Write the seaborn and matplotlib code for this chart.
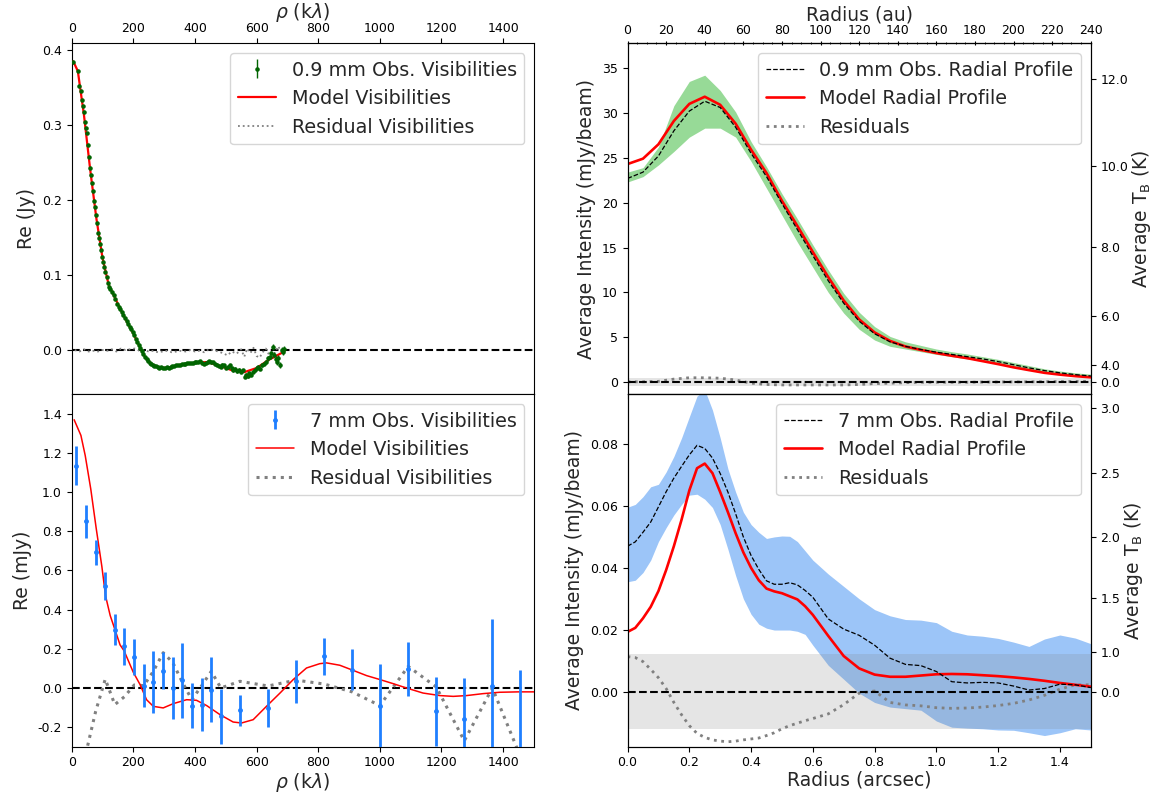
import numpy as np
import matplotlib
matplotlib.use("Agg")
import matplotlib.pyplot as plt
import seaborn as sns
from matplotlib.ticker import MultipleLocator, AutoMinorLocator, FormatStrFormatter

sns.set_style("ticks", rc={"axes.edgecolor": "black", "xtick.color": "black",
                           "ytick.color": "black", "axes.linewidth": 1.3})
plt.rcParams["font.family"] = ["DejaVu Sans"]
plt.rcParams.update({
    "xtick.labelsize": 9, "ytick.labelsize": 9,
    "axes.labelsize": 13.5, "legend.fontsize": 13.8,
    "xtick.direction": "out", "ytick.direction": "out",
    "mathtext.default": "it",
})

# ---------------- 0.9 mm visibilities (Jy) ----------------
rho09 = [5.4, 19.5, 24.9, 29.0, 32.4, 35.7, 38.9, 42.2, 45.4, 48.6,
         53.0, 56.2, 59.5, 62.7, 66.0, 69.2, 72.4, 75.7, 78.9, 83.2,
         86.5, 89.7, 93.0, 96.2, 99.5, 102.7, 106.0, 109.0, 113.5, 118.0,
         122.0, 126.0, 130.0, 136, 142, 148, 153, 158, 163, 168,
         173, 178, 183, 188, 193, 198, 203, 208, 213, 218,
         223, 228, 233, 238, 243, 248, 253, 258, 263, 268,
         273, 279, 285, 291, 297, 303, 309, 315, 321, 327,
         333, 339, 345, 351, 357, 363, 369, 375, 381, 387,
         393, 399, 405, 411, 417, 423, 429, 435, 441, 447,
         453, 459, 465, 471, 477, 483, 489, 495, 501, 507,
         513, 519, 525, 531, 537, 543, 549, 555, 561, 566,
         571, 576, 582, 588, 594, 600, 606, 612, 618, 624,
         630, 636, 642, 648, 652, 657, 662, 666, 671, 676,
         681, 686, 690]
re09 = [0.3844, 0.372, 0.352, 0.346, 0.334, 0.326, 0.318, 0.304, 0.296, 0.290,
        0.273, 0.258, 0.243, 0.234, 0.223, 0.212, 0.199, 0.191, 0.180, 0.169,
        0.156, 0.149, 0.141, 0.133, 0.124, 0.118, 0.111, 0.104, 0.097, 0.089,
        0.084, 0.081, 0.078, 0.074, 0.068, 0.0613, 0.058, 0.055, 0.0505, 0.047,
        0.043, 0.0385, 0.035, 0.031, 0.0275, 0.0235, 0.0198, 0.015, 0.011, 0.007,
        0.0025, -0.0015, -0.0058, -0.0095, -0.0124, -0.015, -0.0168, -0.018, -0.0195, -0.0208,
        -0.0218, -0.0228, -0.0236, -0.0232, -0.0244, -0.024, -0.0232, -0.0238, -0.0225, -0.0218,
        -0.0212, -0.0205, -0.0198, -0.0205, -0.019, -0.0185, -0.0192, -0.0175, -0.017, -0.0168,
        -0.0178, -0.016, -0.0155, -0.0165, -0.015, -0.0172, -0.0182, -0.0168, -0.0158, -0.0145,
        -0.0165, -0.016, -0.018, -0.0195, -0.021, -0.0222, -0.0195, -0.0205, -0.024, -0.022,
        -0.020, -0.0245, -0.027, -0.025, -0.0285, -0.026, -0.029, -0.027, -0.036, -0.033,
        -0.035, -0.031, -0.033, -0.029, -0.027, -0.024, -0.022, -0.025, -0.020, -0.018,
        -0.016, -0.011, -0.009, -0.004, 0.004, -0.006, -0.012, -0.016, -0.010, -0.020,
        0.000, -0.003, 0.002]
err09 = [0.0008, 0.0008, 0.0008, 0.0008, 0.0008, 0.0008, 0.0008, 0.0008, 0.0008, 0.0008,
         0.0008, 0.0008, 0.0008, 0.0008, 0.0008, 0.0008, 0.0008, 0.0008, 0.0008, 0.0008,
         0.0008, 0.0008, 0.0008, 0.0008, 0.0008, 0.0008, 0.0008, 0.0008, 0.0008, 0.0008,
         0.0009, 0.0009, 0.0009, 0.0009, 0.0009, 0.0009, 0.0009, 0.0009, 0.0009, 0.0009,
         0.0010, 0.0010, 0.0010, 0.0010, 0.0010, 0.0010, 0.0010, 0.0010, 0.0010, 0.0010,
         0.0011, 0.0011, 0.0011, 0.0011, 0.0011, 0.0011, 0.0011, 0.0011, 0.0011, 0.0011,
         0.0012, 0.0012, 0.0012, 0.0012, 0.0012, 0.0012, 0.0012, 0.0012, 0.0012, 0.0012,
         0.0013, 0.0013, 0.0013, 0.0013, 0.0013, 0.0013, 0.0013, 0.0013, 0.0013, 0.0013,
         0.0014, 0.0014, 0.0014, 0.0014, 0.0014, 0.0014, 0.0014, 0.0014, 0.0014, 0.0014,
         0.0016, 0.0016, 0.0016, 0.0016, 0.0016, 0.0016, 0.0016, 0.0016, 0.0016, 0.0016,
         0.0018, 0.0018, 0.0018, 0.0018, 0.0018, 0.0018, 0.0018, 0.0018, 0.0018, 0.0018,
         0.0022, 0.0022, 0.0022, 0.0022, 0.0022, 0.0022, 0.0022, 0.0022, 0.0022, 0.0022,
         0.0030, 0.0030, 0.0030, 0.0030, 0.0035, 0.0035, 0.0035, 0.0035, 0.0040, 0.0040,
         0.0040, 0.0040, 0.0040]

rho09_model = [5, 20, 40, 60, 80, 100, 120, 140, 160, 180, 200, 220, 240,
               260, 280, 300, 330, 360, 400, 440, 480, 520, 560, 600, 640, 690]
re09_model = [0.385, 0.372, 0.313, 0.241, 0.176, 0.123, 0.087, 0.070, 0.053,
              0.037, 0.022, 0.005, -0.011, -0.019, -0.0225, -0.024, -0.022,
              -0.019, -0.017, -0.016, -0.021, -0.027, -0.0295, -0.024, -0.013,
              -0.002]

rho09_res = [10, 25, 40, 55, 70, 85, 100, 115, 130, 145, 160, 175, 190, 205,
             220, 235, 250, 265, 280, 295, 310, 325, 340, 355, 370, 385, 400,
             415, 430, 445, 460, 475, 490, 505, 520, 535, 550, 560, 570, 580,
             590, 600, 610, 620, 630, 640, 650, 660, 670, 680, 690]
re09_res = [0.0, -0.002, 0.001, -0.002, -0.001, -0.002, 0.0, -0.001, 0.001,
            -0.002, 0.002, 0.0, 0.001, 0.002, -0.001, 0.0, -0.002, -0.001,
            -0.003, -0.002, -0.001, -0.003, -0.002, -0.001, -0.002, 0.0,
            -0.002, -0.001, -0.003, 0.001, 0.0, -0.002, -0.004, -0.007,
            -0.002, -0.005, 0.001, -0.009, 0.002, -0.004, 0.003, -0.008,
            -0.010, -0.003, 0.002, -0.006, -0.013, -0.003, 0.005, -0.002, 0.003]

# ---------------- 7 mm visibilities (mJy) ----------------
rho7 = [15.6, 46.7, 77.8, 109, 140, 171, 203, 234, 265, 297, 328, 359, 390,
        422, 453, 484, 546, 637, 728, 819, 910, 1000, 1092, 1183, 1274, 1365,
        1456]
re7 = [1.135, 0.852, 0.693, 0.522, 0.298, 0.213, 0.158, 0.012, 0.031, 0.089,
       0.0, 0.039, -0.090, -0.085, -0.009, -0.144, -0.114, -0.102, 0.034,
       0.162, 0.094, -0.094, 0.097, -0.119, -0.157, 0.012, -0.33]
err7 = [0.10, 0.085, 0.063, 0.071, 0.078, 0.095, 0.09, 0.11, 0.16, 0.095,
        0.157, 0.19, 0.113, 0.135, 0.166, 0.14, 0.08, 0.095, 0.11, 0.094,
        0.105, 0.218, 0.14, 0.175, 0.21, 0.34, 0.42]

rho7_model = [8, 30, 44, 62, 80, 98, 110, 125, 140, 157, 170, 185, 200, 222,
              243, 265, 297, 330, 373, 405, 438, 481, 524, 551, 589, 632, 676,
              719, 762, 805, 827, 870, 913, 957, 1000, 1043, 1086, 1140, 1195,
              1238, 1281, 1335, 1389, 1450, 1500]
re7_model = [1.37, 1.29, 1.187, 1.016, 0.811, 0.62, 0.47, 0.37, 0.30, 0.22,
             0.19, 0.135, 0.08, 0.017, -0.06, -0.094, -0.102, -0.08, -0.06,
             -0.063, -0.09, -0.136, -0.174, -0.179, -0.162, -0.094, -0.026,
             0.043, 0.102, 0.124, 0.128, 0.116, 0.09, 0.063, 0.043, 0.022,
             0.0, -0.026, -0.039, -0.043, -0.039, -0.029, -0.022, -0.02, -0.02]

rho7_res = [15.6, 46.7, 77.8, 109, 140, 171, 203, 234, 265, 297, 328, 359, 390,
            422, 453, 484, 546, 637, 728, 819, 910, 1000, 1092, 1183, 1274,
            1365, 1456]
re7_res = [-1.0, -0.33, -0.12, 0.045, -0.085, -0.045, 0.015, 0.012, 0.085,
           0.18, 0.13, 0.03, -0.06, 0.012, 0.085, 0.0, 0.034, 0.01, 0.04, 0.02,
           -0.02, -0.09, 0.11, 0.005, -0.27, 0.0, -0.35]

# ---------------- 0.9 mm radial profile (mJy/beam) ----------------
r09 = [0.00, 0.05, 0.10, 0.15, 0.20, 0.25, 0.30, 0.35, 0.40, 0.45, 0.50,
       0.55, 0.60, 0.65, 0.70, 0.75, 0.80, 0.85, 0.90, 0.95, 1.00, 1.05,
       1.10, 1.15, 1.20, 1.25, 1.30, 1.35, 1.40, 1.45, 1.50]
prof09_obs = [22.7, 23.4, 25.2, 28.0, 30.2, 31.3, 30.6, 28.4, 25.5, 22.9, 19.9,
              17.0, 14.1, 11.3, 8.8, 6.8, 5.4, 4.5, 4.0, 3.65, 3.35, 3.1,
              2.85, 2.6, 2.3, 1.95, 1.6, 1.3, 1.05, 0.85, 0.7]
prof09_hi = [23.4, 23.9, 26.2, 30.8, 33.5, 34.2, 32.5, 30.1, 26.8, 24.0, 21.0,
             18.2, 15.3, 12.5, 9.9, 7.8, 6.2, 5.1, 4.5, 4.1, 3.7, 3.4, 3.15,
             2.85, 2.55, 2.2, 1.85, 1.5, 1.25, 1.05, 0.9]
prof09_lo = [22.3, 22.9, 24.2, 25.7, 27.3, 28.3, 28.3, 27.3, 24.6, 21.6, 18.6,
             15.6, 12.8, 10.0, 7.7, 5.9, 4.7, 4.0, 3.7, 3.4, 3.1, 2.85, 2.6,
             2.4, 2.1, 1.75, 1.4, 1.1, 0.9, 0.7, 0.55]
prof09_model = [24.3, 24.9, 26.5, 29.1, 31.0, 31.8, 30.9, 28.8, 25.9, 23.3,
                20.2, 17.4, 14.5, 11.7, 9.1, 7.0, 5.55, 4.6, 3.98, 3.6, 3.25,
                2.95, 2.68, 2.35, 2.02, 1.66, 1.35, 1.05, 0.85, 0.68, 0.55]
prof09_res = [0.05, 0.05, 0.1, 0.35, 0.5, 0.5, 0.45, 0.25, -0.1, -0.25, -0.3,
              -0.3, -0.3, -0.3, -0.3, -0.25, -0.15, -0.1, -0.05, 0.0, 0.0, 0.0,
              0.0, 0.02, 0.03, 0.04, 0.05, 0.06, 0.08, 0.09, 0.1]
rms09 = 0.47

# ---------------- 7 mm radial profile (mJy/beam) ----------------
r7 = [0.000, 0.025, 0.050, 0.075, 0.100, 0.125, 0.150, 0.175, 0.200, 0.225,
      0.250, 0.275, 0.300, 0.325, 0.350, 0.375, 0.400, 0.425, 0.450, 0.475,
      0.500, 0.525, 0.550, 0.575, 0.600, 0.65, 0.70, 0.75, 0.80, 0.85, 0.90,
      0.95, 1.00, 1.05, 1.10, 1.15, 1.20, 1.25, 1.30, 1.35, 1.40, 1.45, 1.50]
prof7_obs = [0.0470, 0.0484, 0.0515, 0.0548, 0.0597, 0.0646, 0.0690, 0.0728,
             0.0765, 0.0796, 0.0786, 0.0755, 0.0705, 0.0645, 0.0575, 0.0500,
             0.0440, 0.0395, 0.0358, 0.0347, 0.0347, 0.0352, 0.0345, 0.0327,
             0.0305, 0.0235, 0.0202, 0.0182, 0.0150, 0.0108, 0.0088, 0.0084,
             0.0065, 0.0032, 0.0028, 0.0030, 0.0028, 0.0018, 0.0005, 0.0010,
             0.0024, 0.0022, 0.0013]
prof7_hi = [0.0596, 0.0605, 0.0630, 0.0662, 0.0670, 0.0710, 0.0760, 0.0820,
            0.0888, 0.0955, 0.0975, 0.0910, 0.0820, 0.0720, 0.0645, 0.0580,
            0.0540, 0.0515, 0.0495, 0.0500, 0.0503, 0.0502, 0.0485, 0.0455,
            0.0425, 0.0380, 0.0340, 0.0300, 0.0265, 0.0245, 0.0233, 0.0231,
            0.0223, 0.0195, 0.0183, 0.0179, 0.0172, 0.0160, 0.0146, 0.0170,
            0.0183, 0.0173, 0.0155]
prof7_lo = [0.0355, 0.0360, 0.0385, 0.0425, 0.0485, 0.0530, 0.0571, 0.0605,
            0.0635, 0.0638, 0.0622, 0.0595, 0.0540, 0.0460, 0.0375, 0.0300,
            0.0250, 0.0218, 0.0205, 0.0199, 0.0199, 0.0199, 0.0195, 0.0185,
            0.0150, 0.0085, 0.0040, -0.0005, -0.0035, -0.0050, -0.0055,
            -0.0060, -0.0095, -0.0115, -0.0118, -0.0120, -0.0124, -0.0125,
            -0.0133, -0.0142, -0.0133, -0.0120, -0.0124]
prof7_model = [0.0193, 0.0206, 0.0237, 0.0274, 0.0325, 0.0393, 0.0470, 0.0556,
               0.0650, 0.0722, 0.0737, 0.0706, 0.0645, 0.0580, 0.0512, 0.0450,
               0.0400, 0.0360, 0.0333, 0.0324, 0.0318, 0.0308, 0.0298, 0.0276,
               0.0248, 0.0180, 0.0115, 0.0075, 0.0055, 0.0048, 0.0048, 0.0052,
               0.0056, 0.0057, 0.0056, 0.0053, 0.0050, 0.0046, 0.0041, 0.0035,
               0.0028, 0.0022, 0.0016]
prof7_res = [0.0113, 0.0110, 0.0097, 0.0072, 0.0045, 0.0010, -0.0035, -0.0075,
             -0.0110, -0.0135, -0.0148, -0.0156, -0.0160, -0.0162, -0.0160,
             -0.0156, -0.0153, -0.0150, -0.0142, -0.0133, -0.0120, -0.0110,
             -0.0102, -0.0094, -0.0087, -0.0072, -0.0042, -0.0005, 0.0002,
             -0.0035, -0.0043, -0.0046, -0.0052, -0.0054, -0.0053, -0.0050,
             -0.0045, -0.0038, -0.0027, -0.0012, 0.0008, 0.0022, 0.0022]
rms7 = 0.0121

# brightness-temperature axis: tick values (K) and Planck conversion constants
tb09_ticks = [0.0, 4.0, 6.0, 8.0, 10.0, 12.0]
tb7_ticks = [0.0, 1.0, 1.5, 2.0, 2.5, 3.0]
hnu_k09, scale09 = 15.3, 87.1      # K, mJy/beam
hnu_k7, scale7 = 2.1, 0.0928       # K, mJy/beam
au_per_arcsec = 160.0


def planck_intensity(t, hnu_k, scale):
    return 0.0 if t == 0 else scale / (np.exp(hnu_k / t) - 1.0)


fig = plt.figure(figsize=(11.54, 7.93), dpi=100)
left_l, left_w = 0.0621, 0.4006
right_l, right_w = 0.5438, 0.4014
ax1 = fig.add_axes([left_l, 0.5028, left_w, 0.4426])
ax2 = fig.add_axes([left_l, 0.0584, left_w, 0.4444])
ax3 = fig.add_axes([right_l, 0.5028, right_w, 0.4426])
ax4 = fig.add_axes([right_l, 0.0584, right_w, 0.4444])

rho_label = r"$\rho$ (k$\lambda$)"

# ---- top left: 0.9 mm visibilities ----
sns.lineplot(x=rho09_model, y=re09_model, ax=ax1, color="red", lw=1.6,
             sort=False, legend=False, zorder=3)
h_mod1 = ax1.lines[-1]
sns.lineplot(x=rho09_res, y=re09_res, ax=ax1, color="gray", ls=":", lw=1.3,
             sort=False, legend=False, zorder=2)
h_res1 = ax1.lines[-1]
h_obs1 = ax1.errorbar(rho09, re09, yerr=err09, fmt=".", color="darkgreen",
                      ms=4.5, elinewidth=1.0, zorder=4)
ax1.axhline(0, color="black", ls="--", lw=1.5, zorder=1)
ax1.set_xlim(0, 1500)
ax1.set_ylim(-0.059, 0.409)
ax1.xaxis.set_major_locator(MultipleLocator(200))
ax1.yaxis.set_major_locator(MultipleLocator(0.1))
ax1.yaxis.set_major_formatter(FormatStrFormatter("%.1f"))
ax1.tick_params(axis="x", top=True, labeltop=True, bottom=True,
                labelbottom=False, pad=2.5)
ax1.xaxis.set_label_position("top")
ax1.set_xlabel(rho_label, labelpad=3)
ax1.set_ylabel("Re (Jy)")
ax1.legend([h_obs1, h_mod1, h_res1],
           ["0.9 mm Obs. Visibilities", "Model Visibilities", "Residual Visibilities"],
           loc="upper right")

# ---- bottom left: 7 mm visibilities ----
sns.lineplot(x=rho7_model, y=re7_model, ax=ax2, color="red", lw=1.1,
             sort=False, legend=False, zorder=3)
h_mod2 = ax2.lines[-1]
sns.lineplot(x=rho7_res, y=re7_res, ax=ax2, color="gray", ls=":", lw=2.2,
             sort=False, legend=False, zorder=2)
h_res2 = ax2.lines[-1]
h_obs2 = ax2.errorbar(rho7, re7, yerr=err7, fmt=".", color="#1f7fff",
                      ms=5, elinewidth=2.0, zorder=4)
ax2.axhline(0, color="black", ls="--", lw=1.5, zorder=1)
ax2.set_xlim(0, 1500)
ax2.set_ylim(-0.3, 1.5)
ax2.xaxis.set_major_locator(MultipleLocator(200))
ax2.yaxis.set_major_locator(MultipleLocator(0.2))
ax2.yaxis.set_major_formatter(FormatStrFormatter("%.1f"))
ax2.set_xlabel(rho_label, labelpad=1)
ax2.set_ylabel("Re (mJy)")
ax2.legend([h_obs2, h_mod2, h_res2],
           ["7 mm Obs. Visibilities", "Model Visibilities", "Residual Visibilities"],
           loc="upper right")


def radial_panel(ax, r, obs, lo, hi, model, res, rms, band_color, obs_label,
                 tb_ticks, hnu_k, scale, ylim):
    ax.fill_between(r, lo, hi, color=band_color, lw=0, zorder=1)
    ax.axhspan(-rms, rms, color="gray", alpha=0.2, lw=0, zorder=1.5)
    sns.lineplot(x=r, y=obs, ax=ax, color="black", ls="--", lw=0.9,
                 sort=False, legend=False, zorder=4)
    h_obs = ax.lines[-1]
    sns.lineplot(x=r, y=model, ax=ax, color="red", lw=1.9,
                 sort=False, legend=False, zorder=3)
    h_mod = ax.lines[-1]
    sns.lineplot(x=r, y=res, ax=ax, color="gray", ls=":", lw=2.0,
                 sort=False, legend=False, zorder=2)
    h_res = ax.lines[-1]
    ax.axhline(0, color="black", ls="--", lw=1.5, zorder=2.5)
    ax.set_xlim(0, 1.5)
    ax.set_ylim(*ylim)
    ax.xaxis.set_major_locator(MultipleLocator(0.2))
    ax.set_ylabel("Average Intensity (mJy/beam)")
    ax.legend([h_obs, h_mod, h_res],
              [obs_label, "Model Radial Profile", "Residuals"], loc="upper right")
    twin = ax.twinx()
    twin.set_ylim(*ylim)
    twin.set_yticks([planck_intensity(t, hnu_k, scale) for t in tb_ticks])
    twin.set_yticklabels([f"{t:.1f}" for t in tb_ticks])
    twin.set_ylabel(r"Average T$_\mathrm{B}$ (K)", labelpad=1)
    return twin


# ---- top right: 0.9 mm radial profile ----
radial_panel(ax3, r09, prof09_obs, prof09_lo, prof09_hi, prof09_model,
             prof09_res, rms09, "#97da97", "0.9 mm Obs. Radial Profile",
             tb09_ticks, hnu_k09, scale09, (-1.34, 37.75))
ax3.yaxis.set_major_locator(MultipleLocator(5))
ax3.xaxis.set_minor_locator(AutoMinorLocator(5))
ax3.tick_params(axis="x", which="both", labelbottom=False)
sec = ax3.secondary_xaxis("top", functions=(lambda r: r * au_per_arcsec,
                                             lambda a: a / au_per_arcsec))
sec.xaxis.set_major_locator(MultipleLocator(20))
sec.xaxis.set_minor_locator(MultipleLocator(5))
sec.tick_params(axis="x", which="both", direction="inout", pad=2.5)
sec.set_xlabel("Radius (au)", labelpad=3)

# ---- bottom right: 7 mm radial profile ----
radial_panel(ax4, r7, prof7_obs, prof7_lo, prof7_hi, prof7_model, prof7_res,
             rms7, "#9cc5f8", "7 mm Obs. Radial Profile",
             tb7_ticks, hnu_k7, scale7, (-0.0178, 0.0961))
ax4.yaxis.set_major_locator(MultipleLocator(0.02))
ax4.yaxis.set_major_formatter(FormatStrFormatter("%.2f"))
ax4.xaxis.set_major_formatter(FormatStrFormatter("%.1f"))
ax4.set_xlabel("Radius (arcsec)", labelpad=1)

fig.savefig("out.png", dpi=100)
